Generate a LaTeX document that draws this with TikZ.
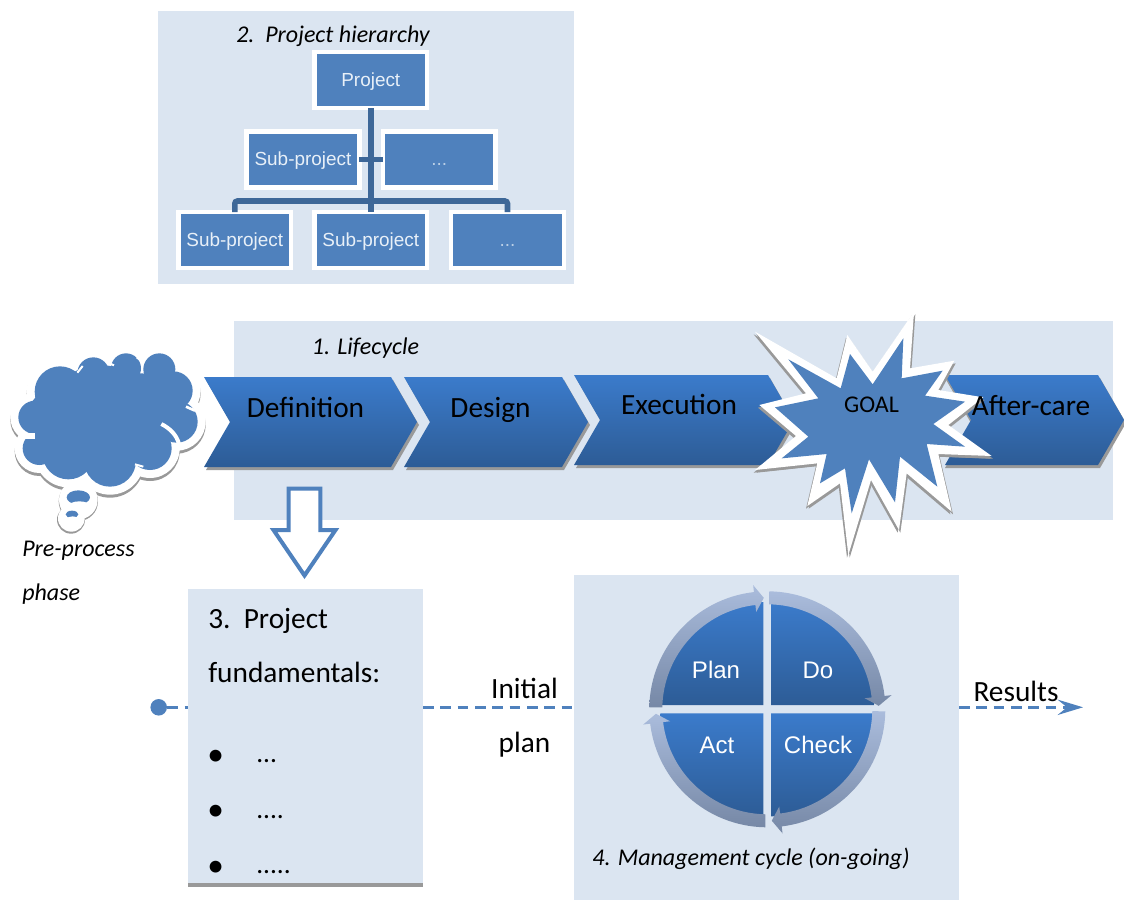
\documentclass[tikz,border=0pt]{standalone}
\usepackage{fontspec}
\setmainfont{Carlito}
\newfontfamily\arialf{Liberation Sans}
\usetikzlibrary{calc,arrows.meta}
\definecolor{panelc}{HTML}{DBE5F1}
\definecolor{boxc}{HTML}{4F81BD}
\definecolor{linec}{HTML}{3D6798}
\definecolor{gradtop}{HTML}{3B7BCB}
\definecolor{gradbot}{HTML}{2D5C96}
\definecolor{ringtop}{HTML}{AABCDC}
\definecolor{ringbot}{HTML}{7688A6}
\definecolor{shadowc}{HTML}{999999}
\definecolor{boxtext}{HTML}{E8F0F8}
\newcommand\pxw{0.75pt}
\tikzset{
  panel/.style={fill=panelc,inner sep=0pt,outer sep=0pt},
  orgbox/.style={draw=white,line width=3.4pt,fill=boxc,inner sep=0pt,outer sep=0pt,
     minimum width=84.5pt,minimum height=42pt,text=boxtext,text height=12.6pt,text depth=3pt,
     font=\arialf\fontsize{14.2}{16}\selectfont},
  orgline/.style={draw=linec,line width=4.2pt},
  chev/.style={top color=gradtop,bottom color=gradbot},
  chevshadow/.style={fill=shadowc},
  chevtext/.style={font=\fontsize{22}{26}\selectfont,text=black,inner sep=0pt,anchor=base},
  note/.style={font=\itshape\fontsize{18}{22}\selectfont,text=black,inner sep=0pt},
  plain/.style={font=\fontsize{22}{26}\selectfont,text=black,inner sep=0pt},
  itemdots/.style={font=\fontsize{20.5}{24}\selectfont,text=black,inner sep=0pt,anchor=base west},
  itembullet/.style={font=\fontsize{25}{28}\selectfont,text=black,inner sep=0pt,anchor=base west},
  pdca/.style={font=\arialf\fontsize{18}{22}\selectfont,text=white,inner sep=0pt,anchor=base},
  flow/.style={draw=boxc,line width=2pt,dash pattern=on 8pt off 5pt},
}
\newcommand\chevpath[6]{(#1,#3) -- (#2,#3) -- (#2+26,{(#3+#4)/2}) -- (#2,#4) -- (#1,#4) -- (#1+26,{(#3+#4)/2}) -- cycle}
\newcommand\ringseg[2]{%
  \shade[top color=ringtop,bottom color=ringbot]
    ($(pc)+(#1:118)$) arc[start angle=#1,end angle=#2,radius=118]
    -- ($(pc)+(#2:125)$) -- ($(pc)+({#2+4.7}:111.5)$) -- ($(pc)+(#2:98)$) -- ($(pc)+(#2:105)$)
    arc[start angle=#2,end angle=#1,radius=105] -- cycle;}
\newcommand\sector[2]{%
  \shade[top color=gradtop,bottom color=gradbot]
    (#1) -- ($(#1)+(#2:103)$) arc[start angle=#2,end angle={#2+90},radius=103] -- cycle;}
\newcommand\cloudcircles[1]{%
  \foreach \cx/\cy/\cr in {180/155/76,280/100/48,378/85/45,478/88/48,520/152/58,530/245/63,
    105/232/50,118/325/50,205/340/78,330/362/78,450/325/65,300/230/155,420/210/110,180/240/100}{
    #1}}
\begin{document}
\begin{tikzpicture}[x=\pxw,y=-\pxw]
\useasboundingbox (0,0) rectangle (1124,900);
% panels
\node[panel,minimum width=312pt,minimum height=204.75pt] (p2) at (366,147.5) {};
\node[panel,minimum width=659.25pt,minimum height=149.25pt] (p1) at (673.5,420.5) {};
\node[panel,minimum width=176.25pt,minimum height=222pt] (p3) at (305.5,737) {};
\node[panel,minimum width=288.75pt,minimum height=243.75pt] (p4) at (766.5,737.5) {};
\draw[shadowc,line width=2.6pt,yshift=0.6pt] (p3.south west) -- (p3.south east);
% hierarchy
\node[note,anchor=base west] (t2) at (236,42) {2.\ \ Project hierarchy};
\node[orgbox] (proj) at (370.8,80) {Project};
\node[orgbox] (sa) at (303,159.5) {Sub-project};
\node[orgbox,text=boxtext!70!boxc] (sb) at (439.3,159.5) {...};
\node[orgbox] (la) at (234.8,240) {Sub-project};
\node[orgbox] (lb) at (370.8,240) {Sub-project};
\node[orgbox,text=boxtext!70!boxc] (lc) at (507.5,240) {...};
\coordinate (bus) at (370.8,201);
\draw[orgline] (proj.south) -- (lb.north);
\draw[orgline] (sa.east) -- (sb.west);
\draw[orgline,rounded corners=2pt] (la.north) |- (bus) -| (lc.north);
% chevrons
\fill[chevshadow] \chevpath{206}{393}{380}{470}{}{};
\fill[chevshadow] \chevpath{406}{564}{380}{470}{}{};
\fill[chevshadow] \chevpath{576}{770}{378}{468}{}{};
\fill[chevshadow] \chevpath{945}{1100}{378}{468}{}{};
\shade[chev] \chevpath{204}{391}{377}{467}{}{};
\shade[chev] \chevpath{404}{562}{377}{467}{}{};
\shade[chev] \chevpath{574}{768}{375}{465}{}{};
\shade[chev] \chevpath{945}{1098}{375}{465}{}{};
\node[chevtext] (cdef) at (305.5,417) {Definition};
\node[chevtext] (cdes) at (490.5,417) {Design};
\node[chevtext] (cexe) at (679,414.5) {Execution};
\node[note,anchor=base] (t1) at (365.5,354.5) {1. Lifecycle};
% goal star
\begin{scope}[shift={(720,300)},x=.25pt,y=-.25pt]
\def\staro{(105,95) -- (350,235) -- (382,105) -- (458,215) -- (582,35) -- (570,205) -- (703,182) -- (655,270) -- (790,292) -- (685,375) -- (815,468) -- (655,462) -- (695,635) -- (560,520) -- (537,690) -- (453,540) -- (385,765) -- (360,550) -- (262,618) -- (292,490) -- (105,510) -- (228,408) -- (118,315) -- (258,280) -- cycle}
\fill[shadowc,shift={(-4,8)}] \staro;
\fill[shadowc,shift={(4,8)}] \staro;
\fill[white] \staro;
\fill[boxc] (205,178) -- (362,265) -- (390,162) -- (458,253) -- (550,115) -- (545,235) -- (668,212) -- (615,287) -- (735,305) -- (640,372) -- (735,440) -- (620,432) -- (652,560) -- (540,470) -- (525,607) -- (447,478) -- (395,640) -- (375,505) -- (300,550) -- (320,462) -- (185,475) -- (265,410) -- (165,322) -- (295,295) -- cycle;
\end{scope}
\node[font=\fontsize{18}{20}\selectfont,text=black,inner sep=0pt,anchor=base] (goal) at (871.5,412) {GOAL};
\node[chevtext] (cafter) at (1031,415) {After-care};
% cloud
\begin{scope}[shift={(0,340)},x=.25pt,y=-.25pt]
\cloudcircles{\fill[shadowc] (\cx,\cy+9) circle[radius=\cr+24];}
\fill[shadowc] (235,484) circle[radius=59];
\fill[shadowc] (213,539) circle[radius=42];
\cloudcircles{\fill[white] (\cx,\cy) circle[radius=\cr+24];}
\fill[white] (235,480) circle[radius=58];
\fill[white] (214,535) circle[radius=40];
\cloudcircles{\fill[boxc] (\cx,\cy) circle[radius=\cr];}
\fill[boxc] (235,472) ellipse[x radius=35,y radius=21];
\fill[boxc] (216,523) ellipse[x radius=19,y radius=11];
\fill[white] (238,498) ellipse[x radius=32,y radius=14];
\fill[white] (218,537) ellipse[x radius=17,y radius=8];
\draw[white,line width=3pt] (484,252) .. controls (510,265) and (530,285) .. (537,312);
\draw[white,line width=2pt] (558,200) -- (585,212);
\fill[white] (66,279) -- (105,279) -- (105,298) -- (66,298) -- cycle;
\draw[white,line width=1.5pt] (405,373) -- (430,380);
\draw[white,line width=1.5pt] (232,98) -- (248,78);
\draw[white,line width=1.5pt] (320,66) -- (342,76);
\draw[white,line width=1.5pt] (410,52) -- (432,68);
\end{scope}
\node[note,anchor=base west] (t5a) at (22,556.5) {Pre-process};
\node[note,anchor=base west] (t5b) at (22,600.5) {phase};
% down arrow
\draw[boxc,line width=3pt,fill=white,miter limit=10] (288.7,488.7) -- (320.3,488.7) -- (320.3,530) -- (335.5,530) -- (304.5,575.5) -- (273.5,530) -- (288.7,530) -- cycle;
% flow line
\node[circle,fill=boxc,inner sep=0pt,minimum size=12.4pt] (dot) at (158.7,707.3) {};
\draw[flow] (dot.east) -- (dot.east -| p3.west);
\draw[flow] (dot.east -| p3.east) -- (dot.east -| p4.west);
\coordinate (flowend) at (1083,707.3);
\draw[flow,-{Stealth[length=19pt,width=11.5pt,inset=7pt,fill=boxc]}] (dot.east -| p4.east) -- (flowend);
% fundamentals
\node[plain,anchor=base west] (t3a) at (208,628) {3.\ \ Project};
\node[plain,anchor=base west] (t3b) at (208,682) {fundamentals:};
\node[itembullet] (b1) at (207,765.1) {\textbullet};
\node[itembullet] (b2) at (207,820.1) {\textbullet};
\node[itembullet] (b3) at (207,876.5) {\textbullet};
\node[itemdots] (i1) at (256,762.8) {...};
\node[itemdots] (i2) at (256,818.2) {....};
\node[itemdots] (i3) at (256,873.8) {.....};
\node[plain,anchor=base] (ip1) at (524.5,698) {Initial};
\node[plain,anchor=base] (ip2) at (524.5,752) {plan};
\node[plain,anchor=base] (res) at (1016,701.5) {Results};
% pdca
\coordinate (pc) at (767.3,709.3);
\coordinate (cpl) at (763.3,705);
\coordinate (cdo) at (771,705);
\coordinate (cch) at (771,713.3);
\coordinate (cac) at (763.3,713.3);
\sector{cpl}{180}
\sector{cdo}{270}
\sector{cch}{0}
\sector{cac}{90}
\ringseg{181}{263.5}
\ringseg{271}{353.5}
\ringseg{1}{83}
\ringseg{91}{173}
\node[pdca] (nplan) at (716,678) {Plan};
\node[pdca] (ndo) at (818,678) {Do};
\node[pdca] (nact) at (717,753) {Act};
\node[pdca] (nchk) at (818,753) {Check};
\node[note,anchor=base] (t4) at (751,865) {4. Management cycle (on-going)};
\end{tikzpicture}
\end{document}
